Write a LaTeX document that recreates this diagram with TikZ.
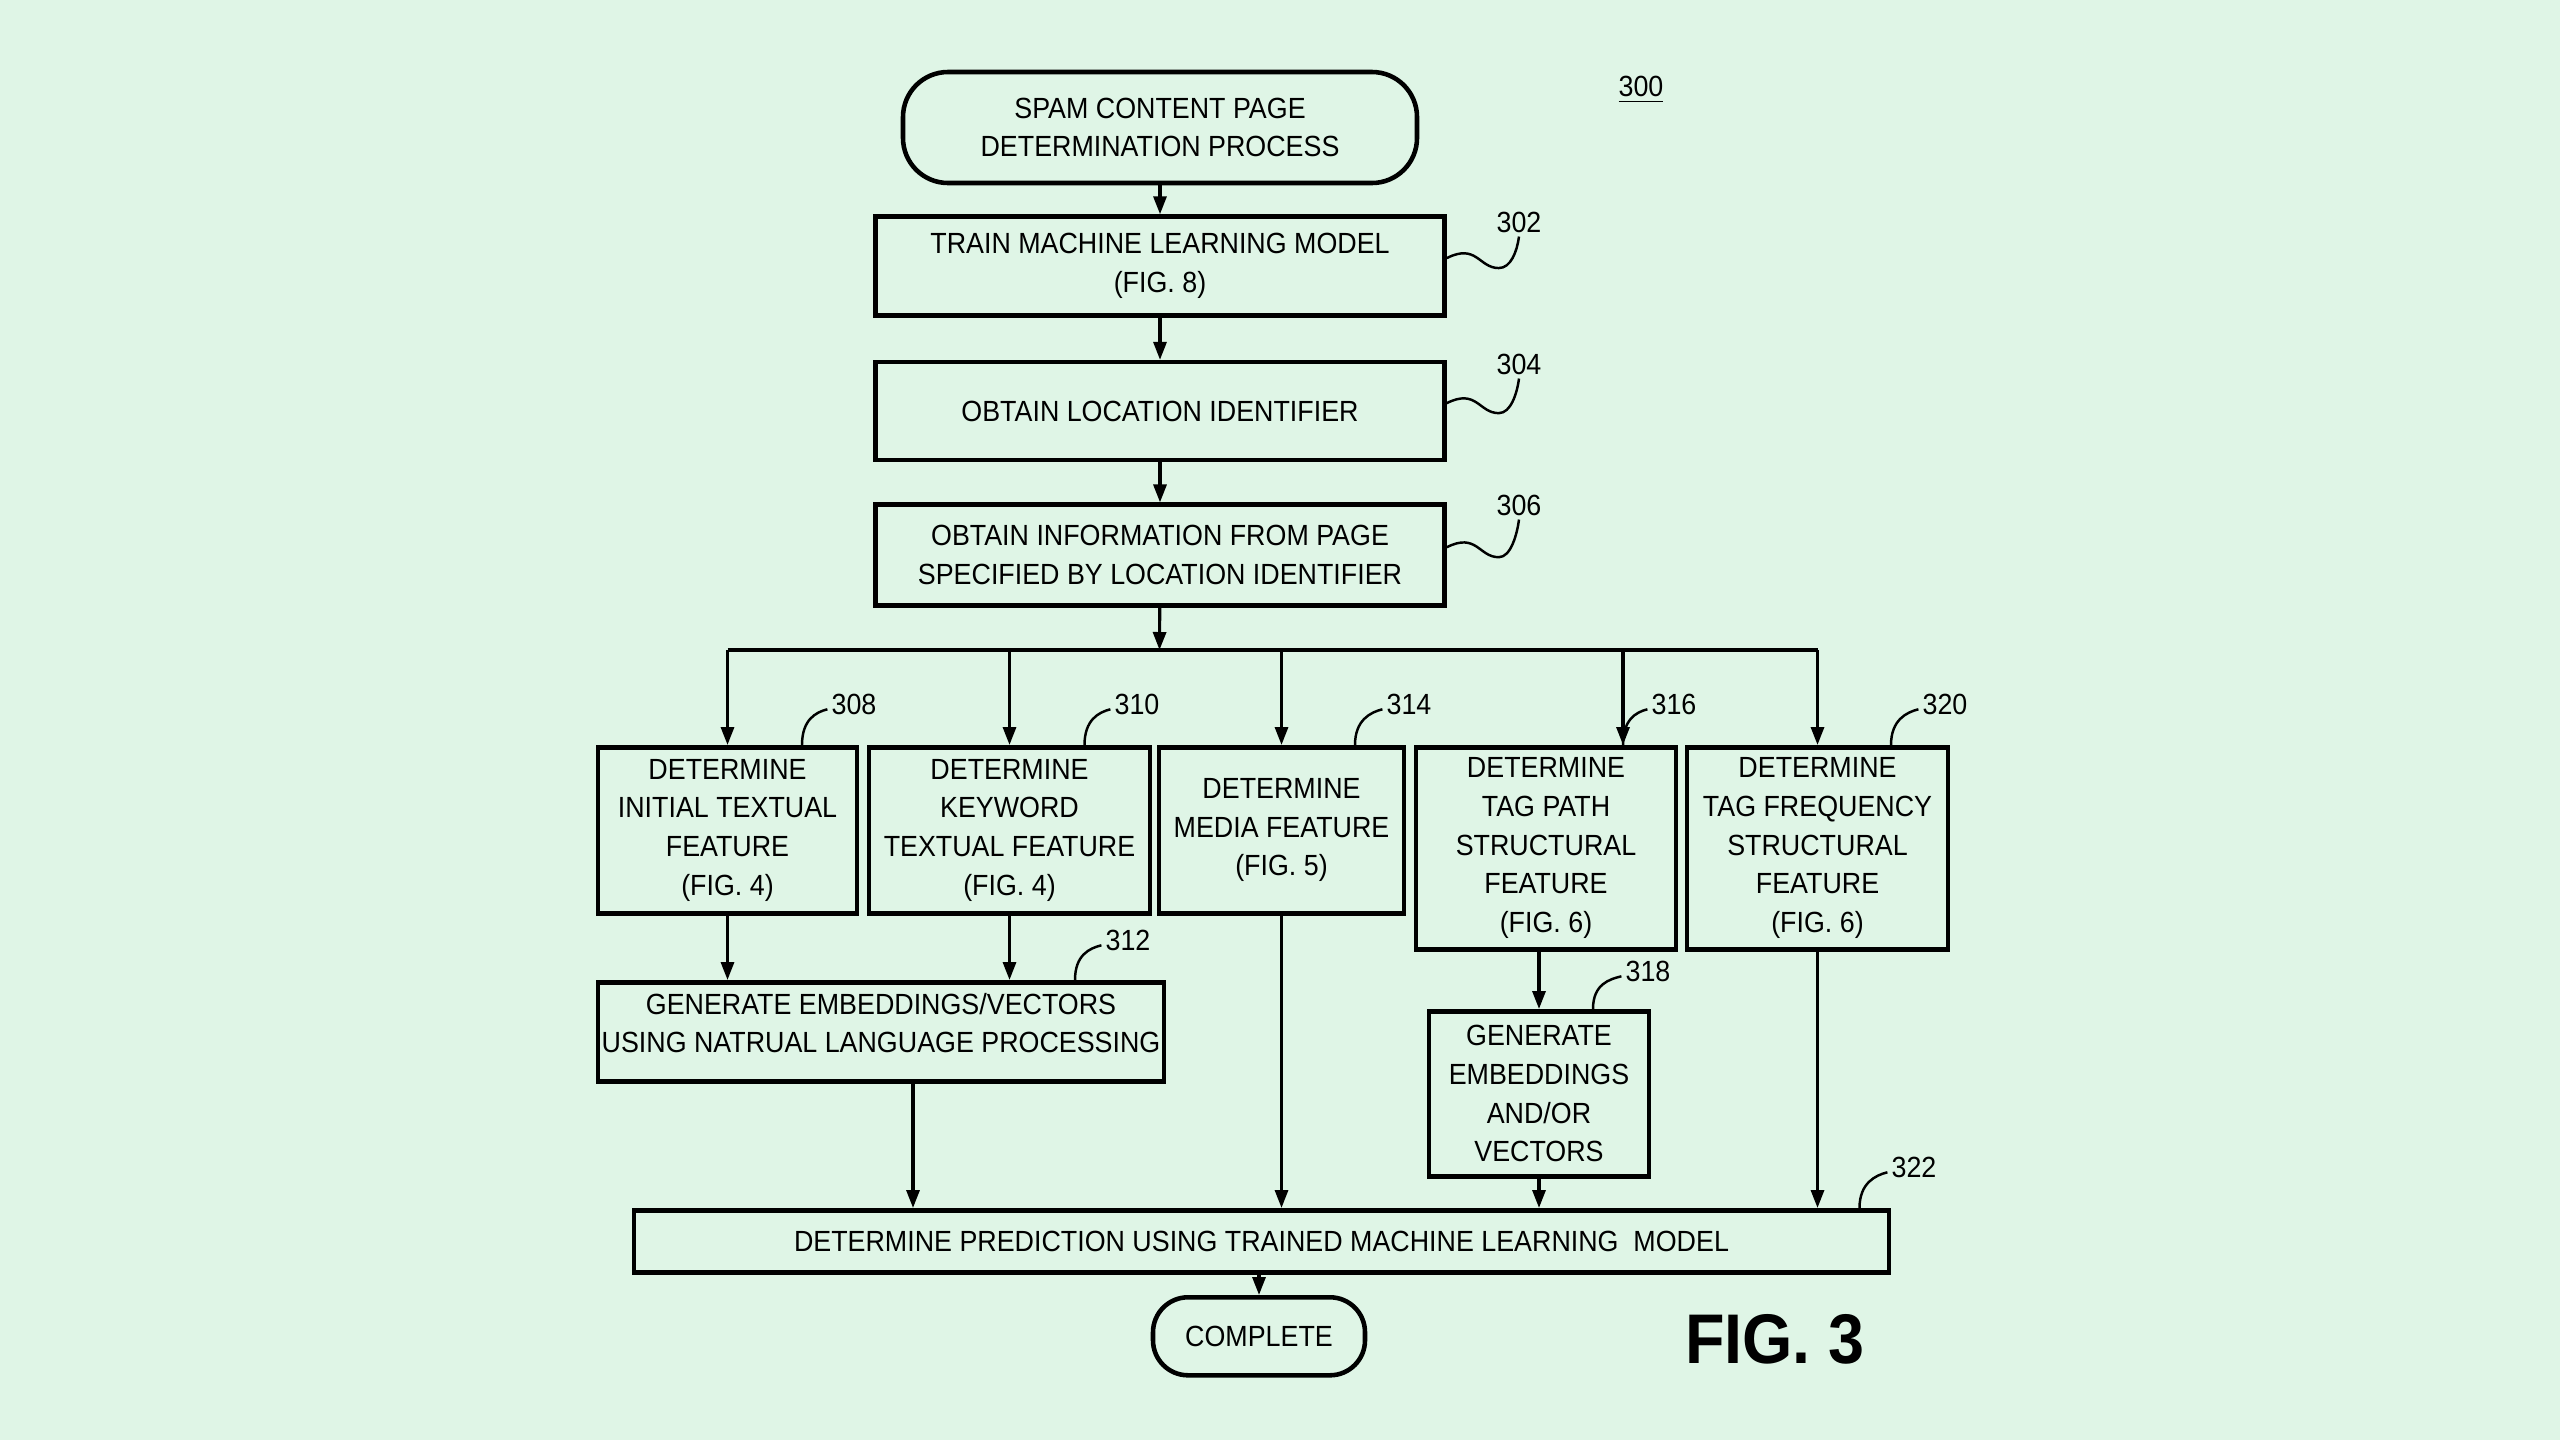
\documentclass[tikz,border=0pt]{standalone}
\usepackage{fontspec}
\setmainfont{Liberation Sans}[FakeStretch=0.92]
\usetikzlibrary{positioning, arrows.meta}
\definecolor{mint}{RGB}{223,245,230}

\begin{document}
\begin{tikzpicture}[
    x=1cm, y=-1cm,
    >={Triangle[length=1.8mm,width=1.3mm]},
    box/.style={
        rectangle,
        draw,
        line width=1.3pt,
        align=center,
        inner sep=1pt,
        font=\fontsize{8.3}{11}\selectfont
    },
    term/.style={box, rounded corners=0.45cm},
    ref/.style={font=\fontsize{8.3}{10}\selectfont, inner sep=1pt},
    arrow/.style={->, line width=0.9pt},
    lead/.style={line width=0.7pt}
]

% Background and page size
\fill[mint] (0,0) rectangle (25.6,14.4);
\useasboundingbox (0,0) rectangle (25.6,14.4);

% Main chain
\node[term, minimum width=5.14cm, minimum height=1.11cm] (start) at (11.60,1.275) {SPAM CONTENT PAGE\\DETERMINATION PROCESS};
\node[box, minimum width=5.69cm, minimum height=0.99cm, below=0.29cm of start] (n302) {TRAIN MACHINE LEARNING MODEL\\(FIG. 8)};
\node[box, minimum width=5.69cm, minimum height=0.98cm, below=0.42cm of n302] (n304) {OBTAIN LOCATION IDENTIFIER};
\node[box, minimum width=5.69cm, minimum height=1.01cm, below=0.40cm of n304] (n306) {OBTAIN INFORMATION FROM PAGE\\SPECIFIED BY LOCATION IDENTIFIER};
\coordinate (split) at (11.595,6.50);

% Feature row
\node[box, minimum width=2.59cm, minimum height=1.66cm, anchor=north] (n308) at (7.275,7.45) {DETERMINE\\INITIAL TEXTUAL\\FEATURE\\(FIG. 4)};
\node[box, minimum width=2.81cm, minimum height=1.66cm, anchor=north] (n310) at (10.095,7.45) {DETERMINE\\KEYWORD\\TEXTUAL FEATURE\\(FIG. 4)};
\node[box, minimum width=2.45cm, minimum height=1.66cm, anchor=north] (n314) at (12.815,7.45) {DETERMINE\\MEDIA FEATURE\\(FIG. 5)};
\node[box, minimum width=2.60cm, minimum height=2.02cm, anchor=north] (n316) at (15.46,7.45) {DETERMINE\\TAG PATH\\STRUCTURAL\\FEATURE\\(FIG. 6)};
\node[box, minimum width=2.61cm, minimum height=2.02cm, anchor=north] (n320) at (18.175,7.45) {DETERMINE\\TAG FREQUENCY\\STRUCTURAL\\FEATURE\\(FIG. 6)};

% Embeddings
\node[box, minimum width=5.66cm, minimum height=0.99cm, anchor=north] (n312) at (8.81,9.80) {GENERATE EMBEDDINGS/VECTORS\\USING NATRUAL LANGUAGE PROCESSING\\[-6pt]};
\node[box, minimum width=2.20cm, minimum height=1.65cm, anchor=north] (n318) at (15.39,10.09) {GENERATE\\EMBEDDINGS\\AND/OR\\VECTORS};

% Prediction and end
\node[box, minimum width=12.55cm, minimum height=0.62cm, anchor=north] (n322) at (12.615,12.08) {DETERMINE PREDICTION USING TRAINED MACHINE LEARNING\ \ MODEL};
\node[term, rounded corners=0.35cm, minimum width=2.12cm, minimum height=0.78cm, anchor=north] (done) at (12.59,12.95) {COMPLETE};

% Reference numerals
\node[ref] (l300) at (16.41,0.90) {\underline{300}};
\node[ref] (l302) at (15.19,2.22) {302};
\node[ref] (l304) at (15.19,3.64) {304};
\node[ref] (l306) at (15.19,5.05) {306};
\node[ref] (l308) at (8.54,7.04) {308};
\node[ref] (l310) at (11.37,7.04) {310};
\node[ref] (l314) at (14.09,7.04) {314};
\node[ref] (l316) at (16.74,7.04) {316};
\node[ref] (l320) at (19.45,7.04) {320};
\node[ref] (l312) at (11.28,9.40) {312};
\node[ref] (l318) at (16.48,9.71) {318};
\node[ref] (l322) at (19.14,11.67) {322};
\node[font=\fontsize{20}{20}\selectfont\bfseries] (fig) at (17.75,13.39) {FIG. 3};

% Arrows - main chain
\draw[arrow] (start) -- (n302);
\draw[arrow] (n302) -- (n304);
\draw[arrow] (n304) -- (n306);
\draw[arrow] (n306) -- (split);

% Arrows - fan out
\draw[line width=0.9pt] (split -| n308) -- (split -| n320);
\draw[arrow] (split -| n308) -- (n308);
\draw[arrow] (split -| n310) -- (n310);
\draw[arrow] (split -| n314) -- (n314);
\draw[arrow] ([xshift=7.7mm]n316.north |- split) -- ([xshift=7.7mm]n316.north);
\draw[arrow] (split -| n320) -- (n320);

% Arrows - embeddings
\draw[arrow] (n308) -- (n308 |- n312.north);
\draw[arrow] (n310) -- (n310 |- n312.north);
\draw[arrow] (n316.south -| n318) -- (n318);

% Arrows - into prediction
\draw[arrow] ([xshift=3.2mm]n312.south) -- ([xshift=3.2mm]n312.south |- n322.north);
\draw[arrow] (n314) -- (n314 |- n322.north);
\draw[arrow] (n318) -- (n318 |- n322.north);
\draw[arrow] (n320) -- (n320 |- n322.north);
\draw[arrow] (n322.south -| done) -- (done);

% Leader lines
\draw[lead] ([yshift=0.8mm]n302.east) .. controls +(0.3,-0.15) and +(-0.2,0) .. ++(0.52,0.1) .. controls +(0.12,0) and +(-0.02,0.15) .. (l302.south);
\draw[lead] ([yshift=0.8mm]n304.east) .. controls +(0.3,-0.15) and +(-0.2,0) .. ++(0.52,0.1) .. controls +(0.12,0) and +(-0.02,0.15) .. (l304.south);
\draw[lead] ([yshift=0.8mm]n306.east) .. controls +(0.3,-0.15) and +(-0.2,0) .. ++(0.52,0.1) .. controls +(0.12,0) and +(-0.02,0.15) .. (l306.south);
\draw[lead] ([xshift=7.45mm]n308.north) .. controls +(0,-0.25) and +(-0.12,0.03) .. ([yshift=-1.5pt]l308.west);
\draw[lead] ([xshift=7.5mm]n310.north) .. controls +(0,-0.25) and +(-0.12,0.03) .. ([yshift=-1.5pt]l310.west);
\draw[lead] ([xshift=7.35mm]n314.north) .. controls +(0,-0.25) and +(-0.12,0.03) .. ([yshift=-1.5pt]l314.west);
\draw[lead] ([xshift=7.7mm]n316.north) .. controls +(0,-0.25) and +(-0.12,0.03) .. ([yshift=-1.5pt]l316.west);
\draw[lead] ([xshift=7.35mm]n320.north) .. controls +(0,-0.25) and +(-0.12,0.03) .. ([yshift=-1.5pt]l320.west);
\draw[lead] ([xshift=19.4mm]n312.north) .. controls +(0,-0.25) and +(-0.12,0.03) .. ([yshift=-1.5pt]l312.west);
\draw[lead] ([xshift=5.4mm]n318.north) .. controls +(0,-0.25) and +(-0.12,0.03) .. ([yshift=-1.5pt]l318.west);
\draw[lead] ([xshift=59.8mm]n322.north) .. controls +(0,-0.25) and +(-0.12,0.03) .. ([yshift=-1.5pt]l322.west);

\end{tikzpicture}
\end{document}
